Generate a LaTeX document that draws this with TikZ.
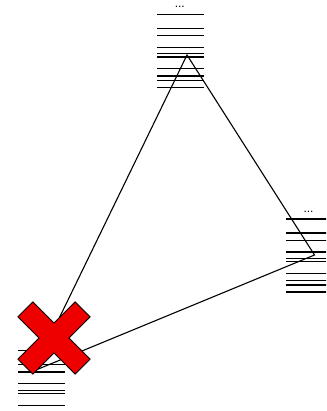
\documentclass[tikz,border=0pt]{standalone}
\usepackage{fontspec}
\setmainfont{Liberation Sans}
\begin{document}
\begin{tikzpicture}[x=1pt,y=-1pt,
  rule/.style={line width=1.3pt},
  link/.style={line width=1.1pt},
  dots/.style={font=\fontsize{12}{12}\selectfont, inner sep=0pt, anchor=base},
  cross/.style={fill={rgb,255:red,238;green,0;blue,0}, draw=black, line width=0.8pt, line join=miter}
]
\useasboundingbox (0,0) rectangle (326,411);
\clip (0,0) rectangle (326,411);

% a stack of entries: ten horizontal rules under a "..." label
\tikzset{
  pics/logstack/.style={
    code={
      \foreach \dy in {0,14,21.4,33,39.5,42.8,54.5,61.6,66,73}
        \draw[rule] (0,\dy) -- (47,\dy);
      \node[dots] (-more) at (22.5,-6.3) {...};
    }
  }
}

\pic (top)   at (157.3,14.3) {logstack};
\pic (right) at (286,219)    {logstack};
\pic (low)   at (18.3,350.7) {logstack};

% triangle between the three stacks
\coordinate (apexTop)   at (187,55);
\coordinate (apexRight) at (314.5,255);
\coordinate (apexLow)   at (33.5,371);
\draw[link, line join=miter] (apexTop) -- (apexRight) -- (apexLow) -- cycle;

% red cross over the lower stack
\begin{scope}[shift={(54,338)}, rotate=45]
  \def\a{40.5}\def\b{10.6}
  \draw[cross] (-\b,-\a) -- (\b,-\a) -- (\b,-\b) -- (\a,-\b) -- (\a,\b) -- (\b,\b)
    -- (\b,\a) -- (-\b,\a) -- (-\b,\b) -- (-\a,\b) -- (-\a,-\b) -- (-\b,-\b) -- cycle;
\end{scope}
\end{tikzpicture}
\end{document}
